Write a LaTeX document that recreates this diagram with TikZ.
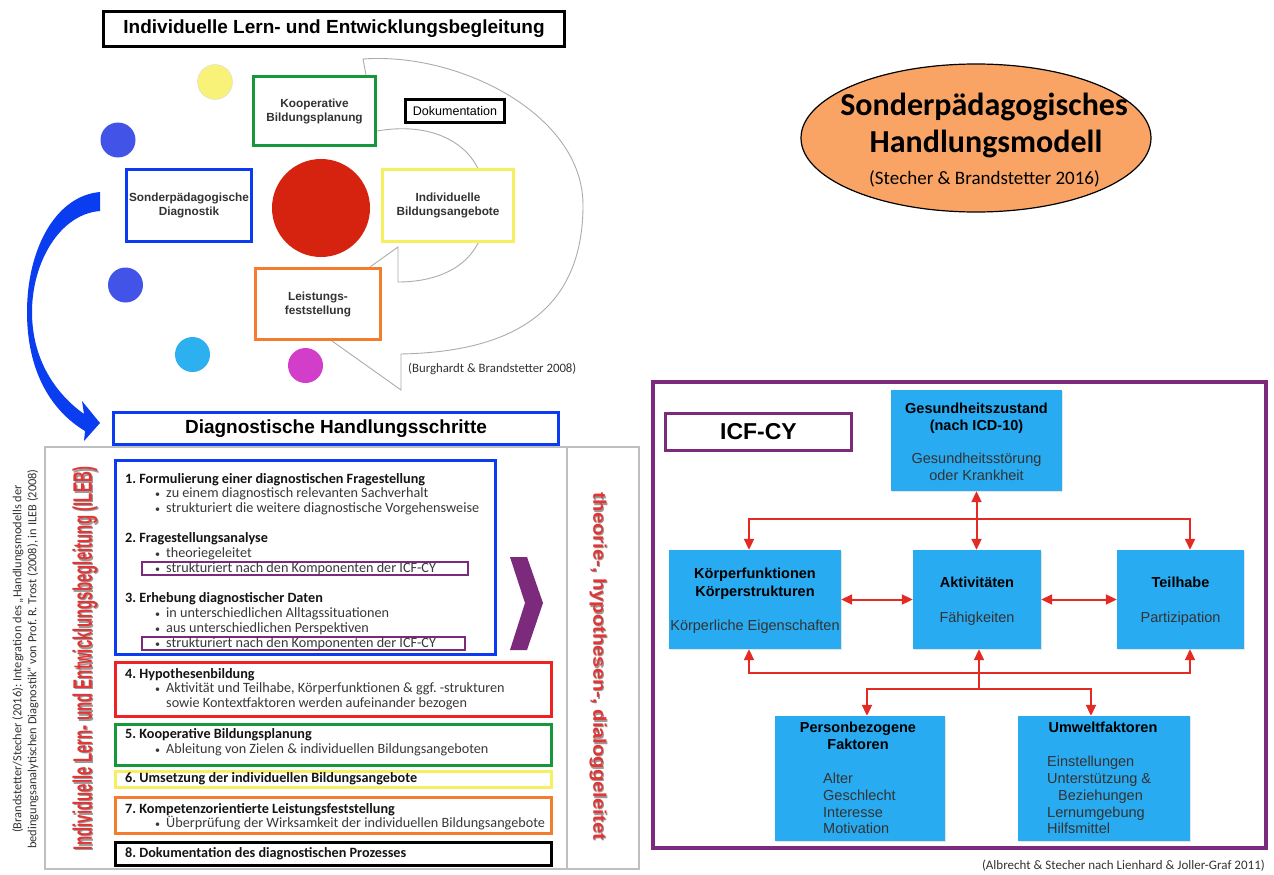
\documentclass[tikz,border=0pt]{standalone}
\usepackage{fontspec}
\usepackage{graphicx}
\setmainfont{Liberation Sans}
\newfontfamily\carlito{Carlito}
\usetikzlibrary{arrows.meta,shapes.geometric,shadows}
\frenchspacing
\definecolor{tlgray}{HTML}{333333}
\definecolor{bluebx}{HTML}{0B3BF2}
\definecolor{greenbx}{HTML}{16983A}
\definecolor{yellowbx}{HTML}{F6F060}
\definecolor{orangebx}{HTML}{F57B2E}
\definecolor{redbx}{HTML}{EE2222}
\definecolor{purp}{HTML}{7B2A7C}
\definecolor{icfblue}{HTML}{28ABF1}
\definecolor{arrred}{HTML}{E42A22}
\definecolor{redcirc}{HTML}{D6230F}
\definecolor{ellorange}{HTML}{F9A464}
\definecolor{ilebred}{HTML}{E03636}
\definecolor{yelcirc}{HTML}{F8F378}
\definecolor{bluecirc}{HTML}{4253E8}
\definecolor{lbluecirc}{HTML}{2CB0F0}
\definecolor{magcirc}{HTML}{D23ECA}
\definecolor{arrowblue}{HTML}{0A3DF0}
\newcommand{\bulletmark}{\makebox[11pt][l]{\fontsize{10}{10}\selectfont•}}
\begin{document}
\begin{tikzpicture}[x=1pt,y=-1pt,
  >={Triangle[width=10pt,length=11pt]},
  shadowed/.style={drop shadow={opacity=0.28,shadow xshift=1.6pt,shadow yshift=-1.6pt,fill=black!60}},
  tl/.style={draw=#1,line width=3pt,fill=white,inner sep=0pt,align=center,text=tlgray,
    font=\fontsize{11.8}{14}\selectfont\bfseries,shadowed},
  dot/.style={circle,fill=#1,inner sep=0pt,minimum size=35pt},
  sbox/.style={draw=#1,line width=2.6pt,inner sep=0pt},
  st/.style={anchor=base west,inner sep=0pt,font=\carlito\fontsize{14.2}{15}\selectfont\bfseries,text=black!92},
  si/.style={anchor=base west,inner sep=0pt,font=\carlito\fontsize{14.2}{15}\selectfont,text=black!78},
  ibox/.style={fill=icfblue,inner sep=0pt,drop shadow={opacity=0.2,shadow xshift=1pt,shadow yshift=-1pt}},
  ib/.style={anchor=base,inner sep=0pt,font=\fontsize{14.5}{17}\selectfont\bfseries,text=black},
  ir/.style={anchor=base,inner sep=0pt,font=\fontsize{14.5}{17}\selectfont,text=black!80},
  il/.style={anchor=base west,inner sep=0pt,font=\fontsize{14.5}{17}\selectfont,text=black!80},
  rl/.style={draw=arrred,line width=2pt},
  grayline/.style={draw=gray!65,line width=0.9pt},
]
\useasboundingbox (0,0) rectangle (1274,875);
\fill[white] (0,0) rectangle (1274,875);

% ---------- top-left: ILEB model ----------
\node[draw=black,line width=3pt,fill=white,inner sep=0pt,minimum width=461pt,minimum height=35pt,
  font=\fontsize{19}{22}\selectfont\bfseries,shadowed] (title) at (334,29) {Individuelle Lern- und Entwicklungsbegleitung};

% gray callout curves
\draw[grayline] (366,75) -- (363,59) .. controls (460,52) and (583,115) .. (583,205)
  .. controls (583,320) and (500,352) .. (401,354) -- (401,390) -- (332,341);
\draw[grayline] (377,131) .. controls (440,120) and (485,150) .. (485,200)
  .. controls (485,225) and (482,238) .. (477,245)
  .. controls (462,272) and (430,282) .. (398,282) -- (398,247) -- (370,267);

\node[dot=yelcirc,draw=gray!30,line width=0.4pt] (cy) at (215,82) {};
\node[dot=bluecirc] (cb1) at (118,140) {};
\node[dot=bluecirc] (cb2) at (125.5,285) {};
\node[dot=lbluecirc] (clb) at (192.5,354.5) {};
\node[dot=magcirc] (cm) at (305.5,365.5) {};
\node[circle,fill=redcirc,inner sep=0pt,minimum size=98pt] (cred) at (321,208) {};

\node[tl=greenbx,minimum width=122pt,minimum height=69pt] (koop) at (314.5,111) {Kooperative\\Bildungsplanung};
\node[draw=black,line width=3pt,fill=white,inner sep=0pt,minimum width=99pt,minimum height=23pt,
  font=\fontsize{12.5}{14}\selectfont,shadowed] (doku) at (455,111) {Dokumentation};
\node[tl=bluebx,minimum width=125pt,minimum height=72pt] (sond) at (189,205.5) {Sonderpädagogische\\Diagnostik};
\node[tl=yellowbx,minimum width=131pt,minimum height=72pt] (indiv) at (448,205.5) {Individuelle\\Bildungsangebote};
\node[tl=orangebx,minimum width=125pt,minimum height=71pt] (leist) at (318,304) {Leistungs-\\feststellung};

\node[anchor=base west,inner sep=0pt,font=\carlito\fontsize{12.8}{14}\selectfont,text=black!80] (burg) at (408,372) {(Burghardt \& Brandstetter 2008)};

% big blue curved arrow
\fill[arrowblue] (100,192) .. controls (55,196) and (27,250) .. (27,312)
  .. controls (27,370) and (50,410) .. (85,431) -- (84,441) -- (100,423) -- (82,401) -- (84,414)
  .. controls (56,394) and (32,360) .. (32,312)
  .. controls (32,262) and (60,214) .. (100,211) -- cycle;

% ---------- lower-left: diagnostische Handlungsschritte ----------
\node[draw=bluebx,line width=3pt,fill=white,inner sep=0pt,minimum width=445pt,minimum height=32pt,
  font=\fontsize{19}{22}\selectfont\bfseries,shadowed] (diag) at (336,428.5) {Diagnostische Handlungsschritte};

\node[draw=gray!50,line width=1.2pt,inner sep=0pt,minimum width=594pt,minimum height=422pt] (frame) at (342,658) {};
\draw[gray!50,line width=1.2pt] (567,447) -- (567,869);

\node[rotate=90,align=center,inner sep=0pt,font=\carlito\fontsize{12.4}{15}\selectfont,text=black!80] (cite) at (25.5,659)
  {(Brandstetter/Stecher (2016): Integration des „Handlungsmodells der\\bedingungsanalytischen Diagnostik“ von Prof. R. Trost (2008), in ILEB (2008)};
\node[rotate=90,inner sep=0pt,text=black!40] (ilebsh) at (86.3,659.8)
  {\resizebox*{383pt}{25pt}{\bfseries Individuelle Lern- und Entwicklungsbegleitung (ILEB)}};
\node[rotate=90,inner sep=0pt,text=ilebred] (ileb) at (85,658.5)
  {\resizebox*{383pt}{25pt}{\bfseries Individuelle Lern- und Entwicklungsbegleitung (ILEB)}};
\node[rotate=-90,inner sep=0pt,text=black!40] (theosh) at (599.1,667.8)
  {\resizebox*{347pt}{17pt}{\bfseries theorie-, hypothesen-, dialoggeleitet}};
\node[rotate=-90,inner sep=0pt,text=ilebred] (theo) at (598,666.5)
  {\resizebox*{347pt}{17pt}{\bfseries theorie-, hypothesen-, dialoggeleitet}};

\node[sbox=bluebx,minimum width=380pt,minimum height=194pt] (s1) at (305.5,557.5) {};
\node[sbox=redbx,minimum width=436pt,minimum height=54pt] (s4) at (333.5,689.5) {};
\node[sbox=greenbx,minimum width=436pt,minimum height=41pt] (s5) at (333.5,745) {};
\node[sbox=yellowbx,minimum width=436pt,minimum height=16pt] (s6) at (333.5,779.5) {};
\node[sbox=orangebx,minimum width=436pt,minimum height=36pt] (s7) at (333.5,815.5) {};
\node[sbox=black,minimum width=436pt,minimum height=23pt] (s8) at (333.5,854) {};

\node[draw=purp,line width=1.8pt,inner sep=0pt,minimum width=326pt,minimum height=13pt] (pa) at (305,568.5) {};
\node[draw=purp,line width=1.8pt,inner sep=0pt,minimum width=323pt,minimum height=13pt] (pb) at (303.5,643.5) {};

\fill[purp] (510,557) -- (527,557) -- (543,603) -- (527,650) -- (510,650) -- (525,603) -- cycle;

\node[st] (t1) at (125,483) {1. Formulierung einer diagnostischen Fragestellung};
\node[si] (t1a) at (155,497.5) {\bulletmark zu einem diagnostisch relevanten Sachverhalt};
\node[si] (t1b) at (155,512.5) {\bulletmark strukturiert die weitere diagnostische Vorgehensweise};
\node[st] (t2) at (125,542.5) {2. Fragestellungsanalyse};
\node[si] (t2a) at (155,557.5) {\bulletmark theoriegeleitet};
\node[si] (t2b) at (155,572.5) {\bulletmark strukturiert nach den Komponenten der ICF-CY};
\node[st] (t3) at (125,602.5) {3. Erhebung diagnostischer Daten};
\node[si] (t3a) at (155,617.5) {\bulletmark in unterschiedlichen Alltagssituationen};
\node[si] (t3b) at (155,632.5) {\bulletmark aus unterschiedlichen Perspektiven};
\node[si] (t3c) at (155,647.5) {\bulletmark strukturiert nach den Komponenten der ICF-CY};
\node[st] (t4) at (125,678.5) {4. Hypothesenbildung};
\node[si] (t4a) at (155,692.5) {\bulletmark Aktivität und Teilhabe, Körperfunktionen \& ggf. -strukturen};
\node[si] (t4b) at (166,707.5) {sowie Kontextfaktoren werden aufeinander bezogen};
\node[st] (t5) at (125,738.5) {5. Kooperative Bildungsplanung};
\node[si] (t5a) at (155,753.5) {\bulletmark Ableitung von Zielen \& individuellen Bildungsangeboten};
\node[st] (t6) at (125,782.5) {6. Umsetzung der individuellen Bildungsangebote};
\node[st] (t7) at (125,813.5) {7. Kompetenzorientierte Leistungsfeststellung};
\node[si] (t7a) at (155,827.5) {\bulletmark Überprüfung der Wirksamkeit der individuellen Bildungsangebote};
\node[st] (t8) at (125,857.5) {8. Dokumentation des diagnostischen Prozesses};

% ---------- top-right: ellipse ----------
\node[ellipse,draw=black,line width=1.2pt,fill=ellorange,inner sep=0pt,minimum width=350pt,minimum height=148pt] (ell) at (976,138) {};
\node[anchor=base,inner sep=0pt,font=\carlito\fontsize{32}{36}\selectfont\bfseries] (e1) at (984,115) {Sonderpädagogisches};
\node[anchor=base,inner sep=0pt,font=\carlito\fontsize{32}{36}\selectfont\bfseries] (e2) at (986,152) {Handlungsmodell};
\node[anchor=base,inner sep=0pt,font=\carlito\fontsize{19}{22}\selectfont] (e3) at (984.5,184) {(Stecher \& Brandstetter 2016)};

% ---------- lower-right: ICF-CY ----------
\node[draw=purp,line width=4pt,fill=white,inner sep=0pt,minimum width=613pt,minimum height=466pt,shadowed] (icf) at (959.5,615) {};
\node[draw=purp,line width=3pt,fill=white,inner sep=0pt,minimum width=186pt,minimum height=37pt,
  font=\fontsize{23}{26}\selectfont\bfseries,shadowed] (icfcy) at (758.5,432) {ICF-CY};

\node[ibox,minimum width=171pt,minimum height=101pt] (ges) at (976.5,440.5) {};
\node[ibox,minimum width=172pt,minimum height=99pt] (koe) at (755,599.5) {};
\node[ibox,minimum width=128pt,minimum height=99pt] (akt) at (977,599.5) {};
\node[ibox,minimum width=127pt,minimum height=99pt] (tei) at (1180.5,599.5) {};
\node[ibox,minimum width=170pt,minimum height=125pt] (per) at (860,778.5) {};
\node[ibox,minimum width=172pt,minimum height=125pt] (umw) at (1104,778.5) {};

\node[ib] (g1) at (976.5,413) {Gesundheitszustand};
\node[ib] (g2) at (976.5,430) {(nach ICD-10)};
\node[ir] (g3) at (976.5,463) {Gesundheitsstörung};
\node[ir] (g4) at (976.5,480) {oder Krankheit};
\node[ib] (k1) at (755,578) {Körperfunktionen};
\node[ib] (k2) at (755,596) {Körperstrukturen};
\node[ir] (k3) at (755,630) {Körperliche Eigenschaften};
\node[ib] (a1) at (977,587) {Aktivitäten};
\node[ir] (a2) at (977,622) {Fähigkeiten};
\node[ib] (p1) at (1180.5,587) {Teilhabe};
\node[ir] (p2) at (1180.5,622) {Partizipation};
\node[ib] (f1) at (858,732) {Personbezogene};
\node[ib] (f2) at (858,749) {Faktoren};
\node[il] (f3) at (823,783) {Alter};
\node[il] (f4) at (823,800) {Geschlecht};
\node[il] (f5) at (823,817) {Interesse};
\node[il] (f6) at (823,833) {Motivation};
\node[ib] (u1) at (1103,732) {Umweltfaktoren};
\node[il] (u2) at (1047,766) {Einstellungen};
\node[il] (u3) at (1047,783) {Unterstützung \&};
\node[il] (u4) at (1058,800) {Beziehungen};
\node[il] (u5) at (1047,817) {Lernumgebung};
\node[il] (u6) at (1047,833) {Hilfsmittel};

% red connectors
\coordinate (jt) at (976.5,519);
\coordinate (jb) at (979,673);
\coordinate (jc) at (979,689);
\draw[rl,<->] (ges.south) -- (akt.north -| ges.south);
\draw[rl,->] (jt) -| ([xshift=-6pt]koe.north);
\draw[rl,->] (jt) -| ([xshift=9.5pt]tei.north);
\draw[rl,<->] (koe.east) -- (akt.west);
\draw[rl,<->] (akt.east) -- (tei.west);
\draw[rl,->] (jb) -| ([xshift=-6pt]koe.south);
\draw[rl,->] (jb) -| ([xshift=9.5pt]tei.south);
\draw[rl,->] (jc) -- ([xshift=2pt]akt.south);
\draw[rl,->] (jc) -| ([xshift=7pt]per.north);
\draw[rl,->] (jc) -| ([xshift=-13pt]umw.north);

\node[anchor=base east,inner sep=0pt,font=\carlito\fontsize{13}{14}\selectfont,text=black!80] (albr) at (1265,869) {(Albrecht \& Stecher nach Lienhard \& Joller-Graf 2011)};
\end{tikzpicture}
\end{document}
